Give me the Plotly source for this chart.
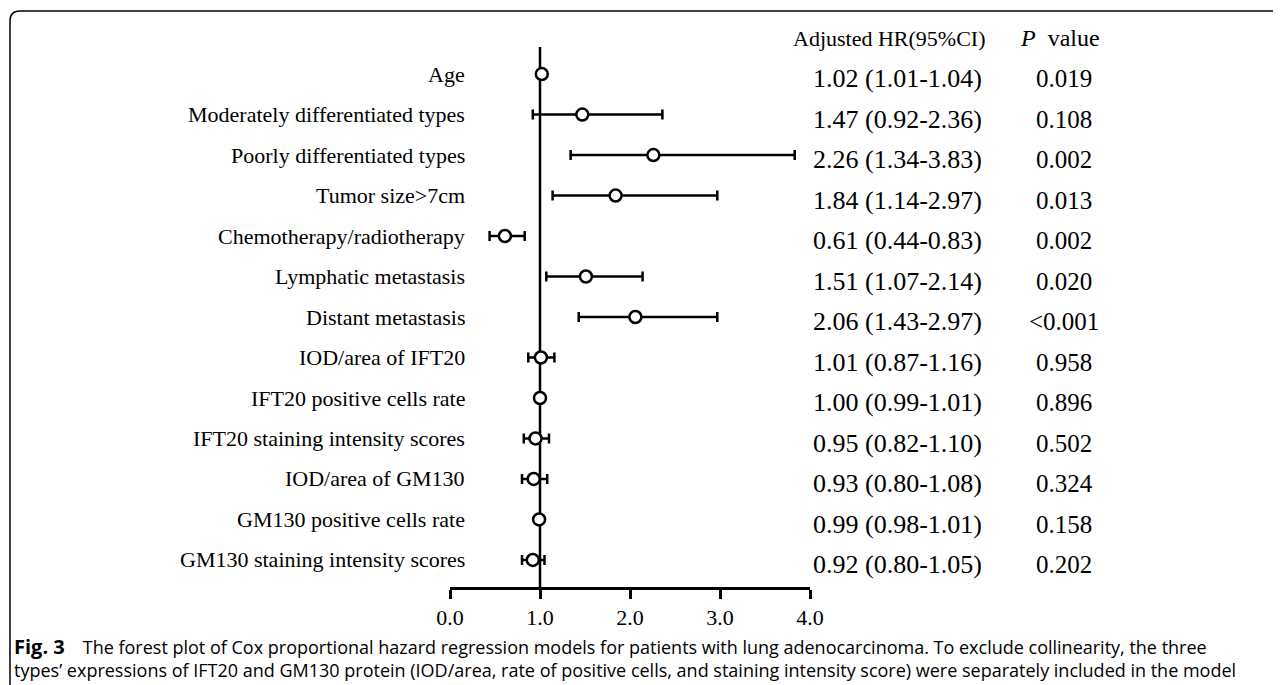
import plotly.graph_objects as go

# ---- data ----
variables = [
    "Age",
    "Moderately differentiated types",
    "Poorly differentiated types",
    "Tumor size>7cm",
    "Chemotherapy/radiotherapy",
    "Lymphatic metastasis",
    "Distant metastasis",
    "IOD/area of IFT20",
    "IFT20 positive cells rate",
    "IFT20 staining intensity scores",
    "IOD/area of GM130",
    "GM130 positive cells rate",
    "GM130 staining intensity scores",
]
hr = [1.02, 1.47, 2.26, 1.84, 0.61, 1.51, 2.06, 1.01, 1.00, 0.95, 0.93, 0.99, 0.92]
ci_low = [1.01, 0.92, 1.34, 1.14, 0.44, 1.07, 1.43, 0.87, 0.99, 0.82, 0.80, 0.98, 0.80]
ci_high = [1.04, 2.36, 3.83, 2.97, 0.83, 2.14, 2.97, 1.16, 1.01, 1.10, 1.08, 1.01, 1.05]
p_values = ["0.019", "0.108", "0.002", "0.013", "0.002", "0.020", "<0.001",
            "0.958", "0.896", "0.502", "0.324", "0.158", "0.202"]
tick_vals = [0, 1, 2, 3, 4]
tick_text = ["0.0", "1.0", "2.0", "3.0", "4.0"]
reference_hr = 1.0

rows = list(range(1, len(variables) + 1))

# ---- layout geometry (page pixels; the page body has an 8px margin) ----
OFF = 8
PAGE_W, PAGE_H = 1281, 685
W, H = PAGE_W - OFF, PAGE_H - OFF
PL, PR, PT, PB = 450, 810, 47, 587  # plot area edges in page pixels


def px_x(px):
    return (px - PL) / (PR - PL)


def px_y(py):
    return (PB - py) / (PB - PT)


SERIF = "Liberation Serif, Times New Roman, serif"
SANS = "Open Sans, Noto Sans, sans-serif"

fig = go.Figure()

fig.add_trace(go.Scatter(
    x=hr,
    y=rows,
    mode="markers",
    marker=dict(symbol="circle", size=12, color="white",
                line=dict(color="black", width=2.5)),
    error_x=dict(type="data", symmetric=False,
                 array=[h - v for v, h in zip(hr, ci_high)],
                 arrayminus=[v - l for v, l in zip(hr, ci_low)],
                 color="black", thickness=2.5, width=5),
    showlegend=False,
    hoverinfo="skip",
    cliponaxis=False,
))

# vertical reference line at HR = 1
fig.add_shape(type="line", xref="x", yref="paper",
              x0=reference_hr, x1=reference_hr, y0=0, y1=1,
              line=dict(color="black", width=2.5), layer="below")

annotations = []
# row labels
for r, name in zip(rows, variables):
    annotations.append(dict(x=px_x(467), y=r, xref="paper", yref="y",
                            text=name, showarrow=False, xanchor="right",
                            yanchor="middle",
                            font=dict(family=SERIF, size=22, color="black")))
# HR and p-value columns
for r, h, l, u, p in zip(rows, hr, ci_low, ci_high, p_values):
    annotations.append(dict(x=px_x(897), y=r + 0.12, xref="paper", yref="y",
                            text=f"{h:.2f} ({l:.2f}-{u:.2f})", showarrow=False,
                            xanchor="center", yanchor="middle",
                            font=dict(family=SERIF, size=26, color="black")))
    annotations.append(dict(x=px_x(1064), y=r + 0.12, xref="paper", yref="y",
                            text=p, showarrow=False,
                            xanchor="center", yanchor="middle",
                            font=dict(family=SERIF, size=25, color="black")))
# headers
annotations.append(dict(x=px_x(889), y=px_y(38), xref="paper", yref="paper",
                        text="Adjusted HR(95%CI)", showarrow=False,
                        xanchor="center", yanchor="middle",
                        font=dict(family=SERIF, size=22, color="black")))
annotations.append(dict(x=px_x(1060), y=px_y(38), xref="paper", yref="paper",
                        text="<i>P</i>\u2002value", showarrow=False,
                        xanchor="center", yanchor="middle",
                        font=dict(family=SERIF, size=24, color="black")))
# caption
annotations.append(dict(x=px_x(12), y=px_y(646), xref="paper", yref="paper",
                        text="<span style='font-size:20px'><b>Fig. 3</b></span>\u2003The forest plot of Cox proportional hazard regression models for patients with lung adenocarcinoma. To exclude collinearity, the three",
                        showarrow=False, xanchor="left", yanchor="middle",
                        font=dict(family=SANS, size=18, color="black")))
annotations.append(dict(x=px_x(12), y=px_y(670), xref="paper", yref="paper",
                        text="types’ expressions of IFT20 and GM130 protein (IOD/area, rate of positive cells, and staining intensity score) were separately included in the model",
                        showarrow=False, xanchor="left", yanchor="middle",
                        font=dict(family=SANS, size=18, color="black")))

# rounded frame (top-left corner)
x0, y0, rad = 10, 11, 10
path = (f"M {px_x(x0)},{px_y(PAGE_H + 5)} L {px_x(x0)},{px_y(y0 + rad)} "
        f"Q {px_x(x0)},{px_y(y0)} {px_x(x0 + rad)},{px_y(y0)} "
        f"L {px_x(PAGE_W + 5)},{px_y(y0)}")
fig.add_shape(type="path", xref="paper", yref="paper", path=path,
              line=dict(color="black", width=1.5))

fig.update_layout(
    width=W, height=H,
    margin=dict(l=PL - OFF, r=PAGE_W - PR, t=PT - OFF, b=PAGE_H - PB, pad=0),
    plot_bgcolor="white", paper_bgcolor="white",
    annotations=annotations,
    xaxis=dict(range=[0, 4], tickvals=tick_vals, ticktext=tick_text,
               showline=True, linecolor="black", linewidth=2.5,
               ticks="outside", ticklen=9, tickwidth=2.5, tickcolor="black",
               showgrid=False, zeroline=False, fixedrange=True,
               tickfont=dict(family=SERIF, size=22, color="black")),
    yaxis=dict(range=[len(variables) + 0.667, 0.333], visible=False,
               showgrid=False, zeroline=False, fixedrange=True),
)

fig.write_html("out.html")
